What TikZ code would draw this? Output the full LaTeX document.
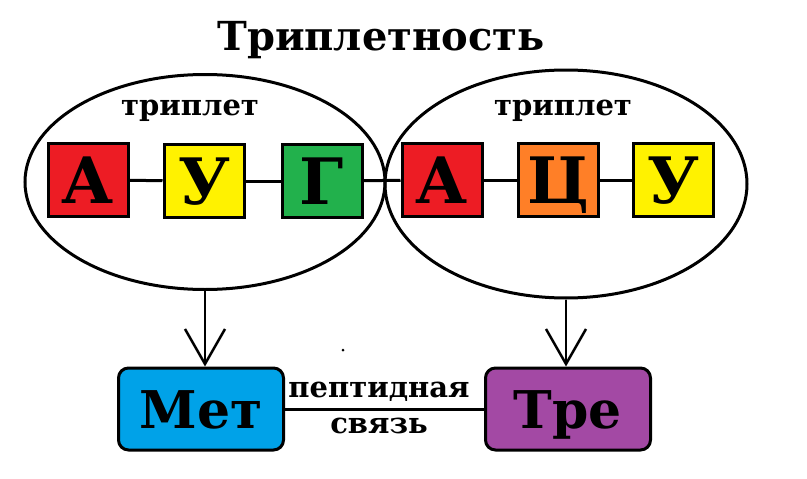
\documentclass[tikz,border=0pt]{standalone}
\usepackage{fontspec}
\setmainfont{DejaVu Serif}
\usepackage{xcolor}
\usetikzlibrary{shapes.geometric,arrows.meta}
\definecolor{nred}{HTML}{ED1C24}
\definecolor{nyellow}{HTML}{FFF200}
\definecolor{ngreen}{HTML}{22B14C}
\definecolor{norange}{HTML}{FF7F27}
\definecolor{ablue}{HTML}{00A2E8}
\definecolor{apurple}{HTML}{A349A4}

\begin{document}
\begin{tikzpicture}[x=1pt,y=-1pt,
		nuc/.style={draw,line width=3pt,inner sep=0pt,minimum width=80pt,minimum height=73pt,
			font=\bfseries\fontsize{64}{64}\selectfont,text height=46pt,text depth=0pt},
		amino/.style={draw,line width=3pt,rounded corners=10pt,inner sep=0pt,minimum width=165pt,
			minimum height=82pt,font=\bfseries\fontsize{52}{52}\selectfont,text height=38pt,text depth=0pt},
		codon/.style={draw,ellipse,line width=3pt,inner sep=0pt},
		lbl/.style={anchor=base,inner sep=0pt,font=\bfseries\fontsize{29}{29}\selectfont}]
		\useasboundingbox (0,0) rectangle (807,479);
		\node[anchor=base,inner sep=0pt,font=\bfseries\fontsize{40}{40}\selectfont] (title) at (381,50) {Триплетность};
		%
		\node[codon,minimum width=360pt,minimum height=215pt] (L) at (205,182) {};
		\node[codon,minimum width=362pt,minimum height=228pt] (R) at (566,184) {};
		\node[lbl] (tL) at (190,115) {триплет};
		\node[lbl] (tR) at (563,115) {триплет};
		%
		\node[nuc,fill=nred] (A1) at (88,180) {А};
		\node[nuc,fill=nyellow] (U1) at (204,181) {У};
		\node[nuc,fill=ngreen] (G1) at (322,181) {Г};
		\node[nuc,fill=nred] (A2) at (442,180) {А};
		\node[nuc,fill=norange] (C2) at (558,180) {Ц};
		\node[nuc,fill=nyellow] (U2) at (673,180) {У};
		\path[line width=3pt]
		(A1) edge (U1)
		(U1) edge (G1)
		(G1) edge (A2)
		(A2) edge (C2)
		(C2) edge (U2);
		%
		\node[amino,fill=ablue] (met) at (201,409) {Мет};
		\node[amino,fill=apurple] (tre) at (568,409) {Тре};
		\draw[line width=3pt] (met) -- (tre);
		\node[lbl] (bond1) at (379,397) {пептидная};
		\node[lbl] (bond2) at (379,433) {связь};
		%
		\path[-{Straight Barb[length=35pt,width=40pt,line width=2.5pt]},line width=2.5pt]
		(L.south) edge (L.south |- met.north)
		(R.south) edge (R.south |- tre.north);
		\fill (343,350) circle (1.5pt);
\end{tikzpicture}
\end{document}
